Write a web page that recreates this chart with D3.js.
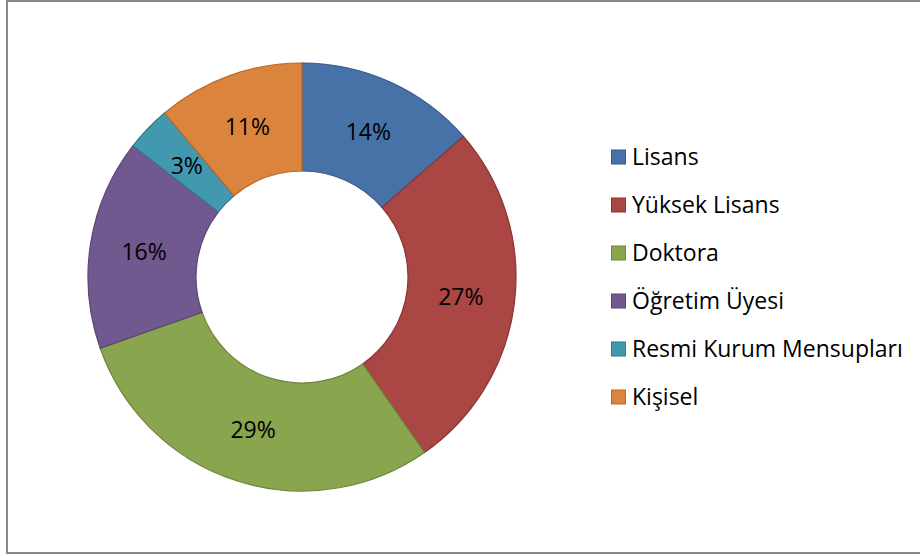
<!DOCTYPE html>
<html>
<head>
<meta charset="utf-8">
<script src="https://cdn.jsdelivr.net/npm/d3@7"></script>
<style>
  body { margin: 0; background: #fff; }
  text { font-family: "Open Sans", sans-serif; fill: #000; }
</style>
</head>
<body>
<script>
// kategori ve değerler (yüzde)
const categories = ['Lisans', 'Yüksek Lisans', 'Doktora', 'Öğretim Üyesi', 'Resmi Kurum Mensupları', 'Kişisel'];
const values = [13.6, 26.7, 29.3, 15.9, 3.4, 11.1];
const colors = ['#4672A8', '#AA4643', '#89A54E', '#71588F', '#4198AF', '#DB843D'];
const strokes = ['#37598a', '#8a3533', '#6d853c', '#5a4573', '#327a8d', '#b86a2c'];

const width = 920, height = 556;
const cx = 302, cy = 277;
const outerR = 214, innerR = 106;

const svg = d3.select('body')
  .append('svg')
  .attr('width', width)
  .attr('height', height);

svg.append('rect')
  .attr('x', 7).attr('y', 1)
  .attr('width', 920).attr('height', 552)
  .attr('fill', '#fff')
  .attr('stroke', '#888')
  .attr('stroke-width', 2);

const data = categories.map((c, i) => ({ name: c, value: values[i], i }));
const total = d3.sum(values);

const pie = d3.pie().value(d => d.value).sort(null);
const arc = d3.arc().innerRadius(innerR).outerRadius(outerR);

const g = svg.append('g').attr('transform', `translate(${cx}, ${cy})`);

const arcs = pie(data);

g.selectAll('path')
  .data(arcs)
  .join('path')
  .attr('d', arc)
  .attr('fill', d => colors[d.data.i])
  .attr('stroke', d => strokes[d.data.i])
  .attr('stroke-width', 1.2);

g.selectAll('text.lbl')
  .data(arcs)
  .join('text')
  .attr('class', 'lbl')
  .attr('transform', d => `translate(${arc.centroid(d)})`)
  .attr('text-anchor', 'middle')
  .attr('dy', '0.36em')
  .style('font-size', '23px')
  .text(d => Math.round(d.data.value / total * 100) + '%');

// lejant
const legend = svg.append('g').attr('transform', 'translate(611, 157)');
const rows = legend.selectAll('g')
  .data(data)
  .join('g')
  .attr('transform', (d, i) => `translate(0, ${i * 48})`);

rows.append('rect')
  .attr('x', 0.5).attr('y', -7)
  .attr('width', 14).attr('height', 14)
  .attr('fill', d => colors[d.i])
  .attr('stroke', d => strokes[d.i])
  .attr('stroke-width', 1);

rows.append('text')
  .attr('x', 21)
  .attr('dy', '0.36em')
  .style('font-size', '23px')
  .text(d => d.name);
</script>
</body>
</html>
